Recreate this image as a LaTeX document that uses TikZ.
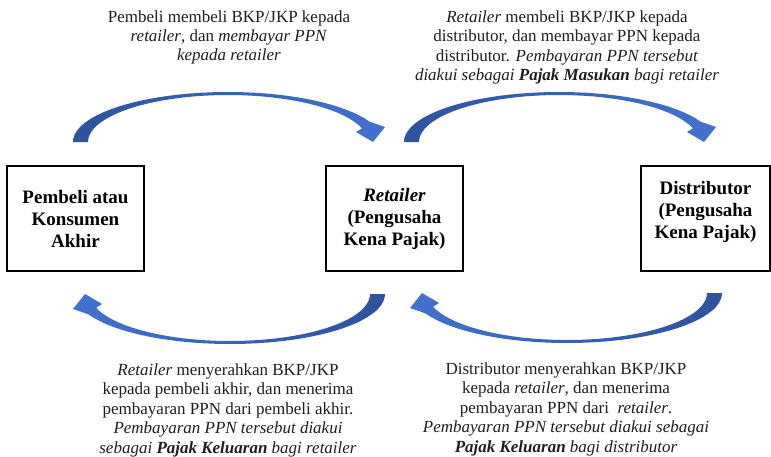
\documentclass[tikz,border=0pt]{standalone}
\usepackage{fontspec}
\setmainfont{Liberation Serif}
\usetikzlibrary{calc, positioning}

\definecolor{arrowdark}{RGB}{46,82,158}
\definecolor{arrowlight}{RGB}{66,114,208}
\definecolor{textgray}{RGB}{30,30,30}

\newcommand{\taxarrow}[4]{%
	\begin{scope}[shift={#1}, rotate=#2]
		\shade[left color=#3, right color=#4]
			plot[domain=180:336, samples=40] ({155*cos(\x)},{50*sin(\x)})
			-- (157,-15) -- (145,0) -- (128,-10)
			-- plot[domain=343:180, samples=40] ({140*cos(\x)},{47*sin(\x)}) -- cycle;
	\end{scope}}

\begin{document}
\begin{tikzpicture}[x=1pt, y=-1pt,
	party/.style={draw, line width=1.5pt, minimum width=137pt, minimum height=105pt, inner sep=0pt, align=center, font=\fontsize{19}{22}\selectfont\bfseries},
	partytext/.style={inner sep=0pt, align=center, font=\fontsize{19}{22}\selectfont\bfseries},
	note/.style={inner sep=0pt, anchor=north, align=center, text=textgray, font=\fontsize{17}{19.5}\selectfont}]

	\useasboundingbox (0,0) rectangle (771,456);

	\node[party] (buyer) at (75.5,218.5) {Pembeli atau\\Konsumen\\Akhir};
	\node[party] (retail) at (394.5,218.5) {\textit{Retailer}\\(Pengusaha\\Kena Pajak)};
	\node[party, minimum width=129pt] (distr) at (705.5,218.5) {};
	\node[partytext] (distrtext) at ($(distr.center)+(0,-7)$) {Distributor\\(Pengusaha\\Kena Pajak)};

	\taxarrow{(228,142)}{0}{arrowdark}{arrowlight}
	\taxarrow{(559,142)}{0}{arrowdark}{arrowlight}
	\taxarrow{(230,294)}{180}{arrowlight}{arrowdark}
	\taxarrow{(567,293)}{180}{arrowlight}{arrowdark}

	\node[note] (buytext) at (229,10) {Pembeli membeli BKP/JKP kepada\\
		\textit{retailer}, dan \textit{membayar PPN}\\
		\textit{kepada retailer}};
	\node[note] (selltext) at (567,10) {\textit{Retailer} membeli BKP/JKP kepada\\
		distributor, dan membayar PPN kepada\\
		distributor. \textit{Pembayaran PPN tersebut}\\
		\textit{diakui sebagai \textbf{Pajak Masukan} bagi retailer}};
	\node[note] (handtext) at (228,363) {\textit{Retailer} menyerahkan BKP/JKP\\
		kepada pembeli akhir, dan menerima\\
		pembayaran PPN dari pembeli akhir.\\
		\textit{Pembayaran PPN tersebut diakui}\\
		\textit{sebagai \textbf{Pajak Keluaran} bagi retailer}};
	\node[note] (paytext) at (566,362) {Distributor menyerahkan BKP/JKP\\
		kepada \textit{retailer}, dan menerima\\
		pembayaran PPN dari~~\textit{retailer}.\\
		\textit{Pembayaran PPN tersebut diakui sebagai}\\
		\textit{\textbf{Pajak Keluaran} bagi distributor}};

\end{tikzpicture}
\end{document}
